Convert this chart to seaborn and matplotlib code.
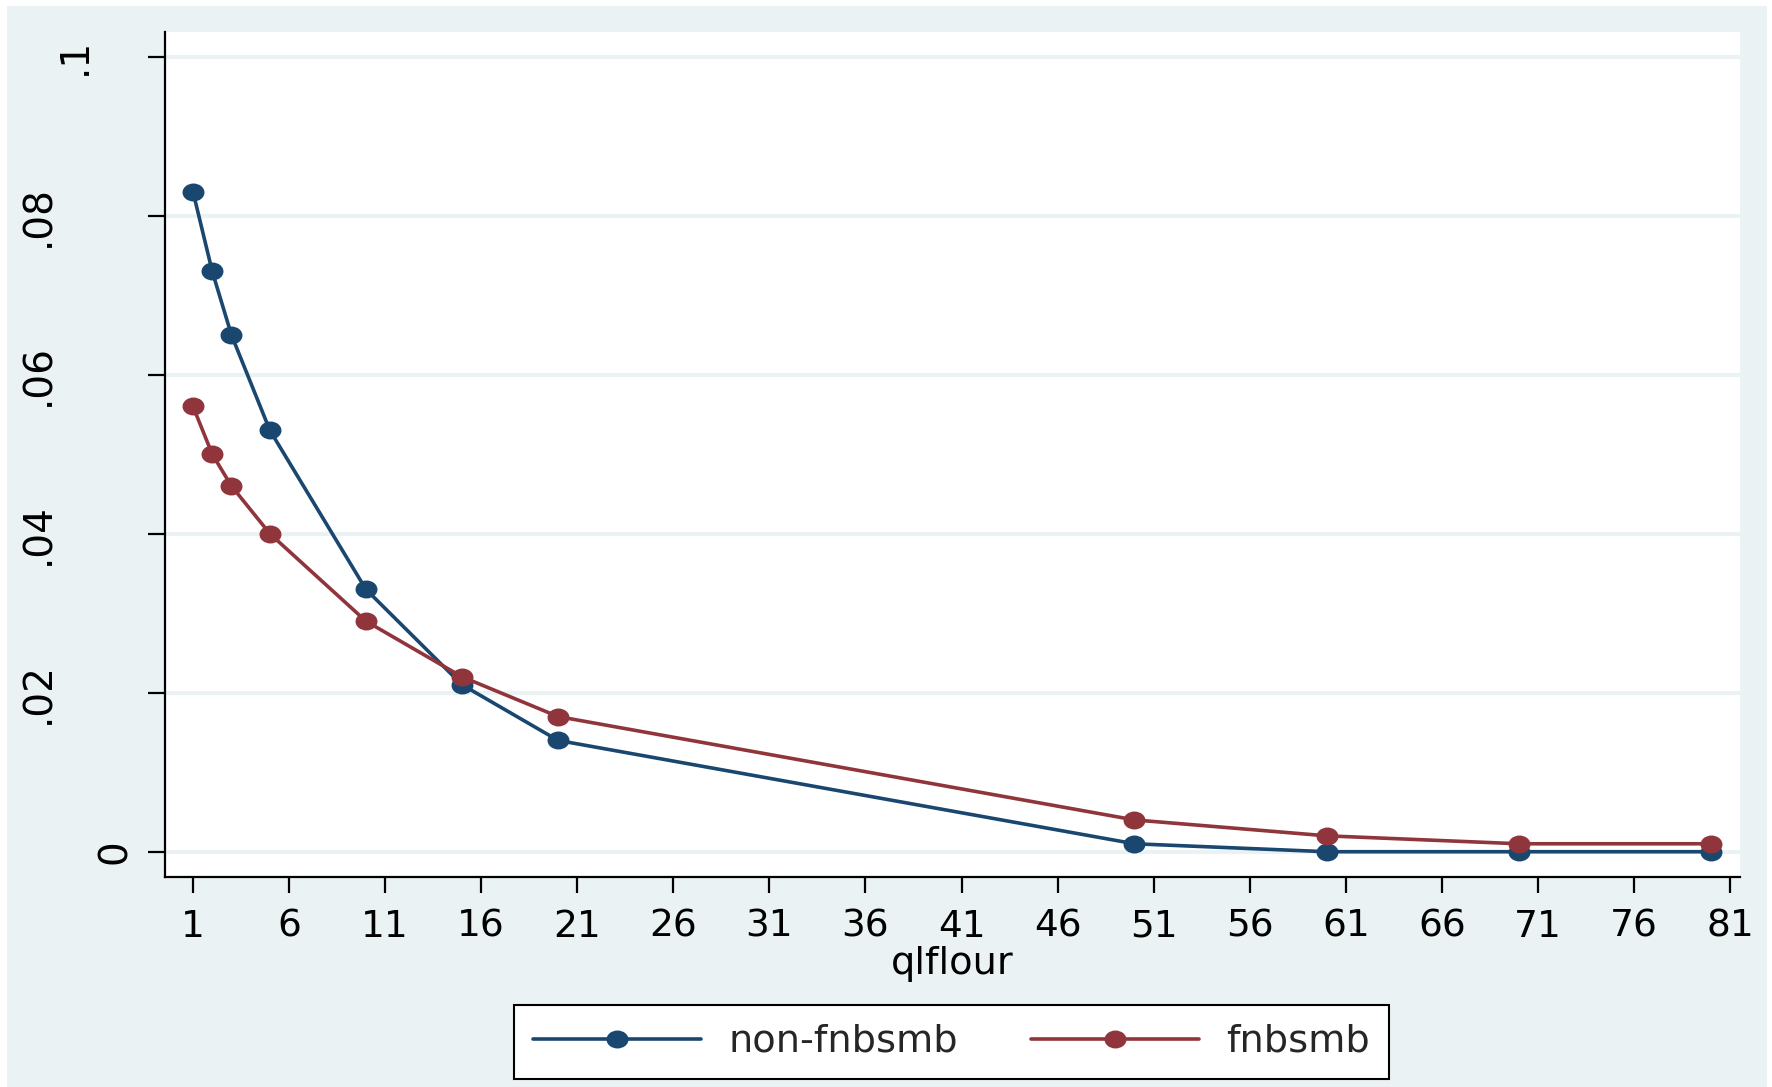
import numpy as np
import pandas as pd
import matplotlib
matplotlib.use("Agg")
import matplotlib.pyplot as plt
import seaborn as sns
from matplotlib.path import Path
from matplotlib.patches import Rectangle
from matplotlib import transforms

# ---- data ----
qlflour = [1, 2, 3, 5, 10, 15, 20, 50, 60, 70, 80]
non_fnbsmb = [0.083, 0.073, 0.065, 0.053, 0.033, 0.021, 0.014, 0.001, 0.0, 0.0, 0.0]
fnbsmb = [0.056, 0.050, 0.046, 0.040, 0.029, 0.022, 0.017, 0.004, 0.002, 0.001, 0.001]
series_names = ["non-fnbsmb", "fnbsmb"]
x_ticks = list(range(1, 82, 5))
y_ticks = [0, 0.02, 0.04, 0.06, 0.08, 0.1]
y_tick_labels = ["0", ".02", ".04", ".06", ".08", ".1"]
x_title = "qlflour"

# ---- style ----
W, H = 1772, 1087
DPI = 100
BG = "#EAF2F3"
NAVY = "#1A476F"
MAROON = "#90353B"
y_label_baseline_px = [126, 49, 49, 49, 49, 86]

sns.set_style("white")
plt.rcParams["font.family"] = ["DejaVu Sans"]

df = pd.DataFrame({
    "qlflour": qlflour + qlflour,
    "value": non_fnbsmb + fnbsmb,
    "group": [series_names[0]] * len(qlflour) + [series_names[1]] * len(qlflour),
})

fig = plt.figure(figsize=(W / DPI, H / DPI), dpi=DPI)
fig.patch.set_facecolor("white")
fig.patches.append(Rectangle((7 / W, 0), (1767 - 7) / W, 1081 / H,
                             transform=fig.transFigure, facecolor=BG,
                             edgecolor="none", zorder=-10))
ax = fig.add_axes([165 / W, (H - 877) / H, (1740 - 165) / W, (877 - 32) / H])
ax.set_facecolor("white")

ellipse = Path.unit_circle().transformed(transforms.Affine2D().scale(1.0, 18 / 22))

sns.lineplot(data=df, x="qlflour", y="value", hue="group", hue_order=series_names,
             palette=[NAVY, MAROON], marker=ellipse, markersize=15.8,
             markeredgewidth=0, linewidth=2.6, legend=False, ax=ax,
             estimator=None, sort=False)

ax.set_xlim(-0.458, 81.52)
ax.set_ylim(-0.00318, 0.1031)
ax.set_xticks(x_ticks)
ax.set_xticklabels([str(t) for t in x_ticks])
ax.set_yticks(y_ticks)
ax.tick_params(axis="y", left=True, labelleft=False, length=12.5, width=1.6,
               direction="out", color="black")
ax.tick_params(axis="x", bottom=True, length=11.5, width=1.6, direction="out",
               color="black", pad=11.5, labelsize=27, labelcolor="black")
for s in ["top", "right"]:
    ax.spines[s].set_visible(False)
for s in ["left", "bottom"]:
    ax.spines[s].set_color("black")
    ax.spines[s].set_linewidth(1.6)
ax.yaxis.grid(True, color=BG, linewidth=2.9)
ax.xaxis.grid(False)
ax.set_axisbelow(True)
ax.set_xlabel(x_title, fontsize=27.5, labelpad=1, color="black")
ax.set_ylabel("")

trans = transforms.blended_transform_factory(fig.transFigure, ax.transData)
for val, lab, px in zip(y_ticks, y_tick_labels, y_label_baseline_px):
    ax.text(px / W, val, lab, transform=trans, rotation=90, rotation_mode="anchor",
            ha="center", va="baseline", fontsize=28, color="black", clip_on=False)

handles = ax.get_lines()[:2]
leg = ax.legend(handles, series_names, loc="center",
                bbox_to_anchor=(951.5 / W, 45 / H), bbox_transform=fig.transFigure,
                ncol=2, frameon=True, fancybox=False, edgecolor="black",
                facecolor="white", framealpha=1, fontsize=27.5,
                handlelength=4.4, handletextpad=0.72, columnspacing=1.9,
                borderpad=0.5, numpoints=1)
leg.get_frame().set_linewidth(1.5)

fig.savefig("out.png", dpi=DPI)
